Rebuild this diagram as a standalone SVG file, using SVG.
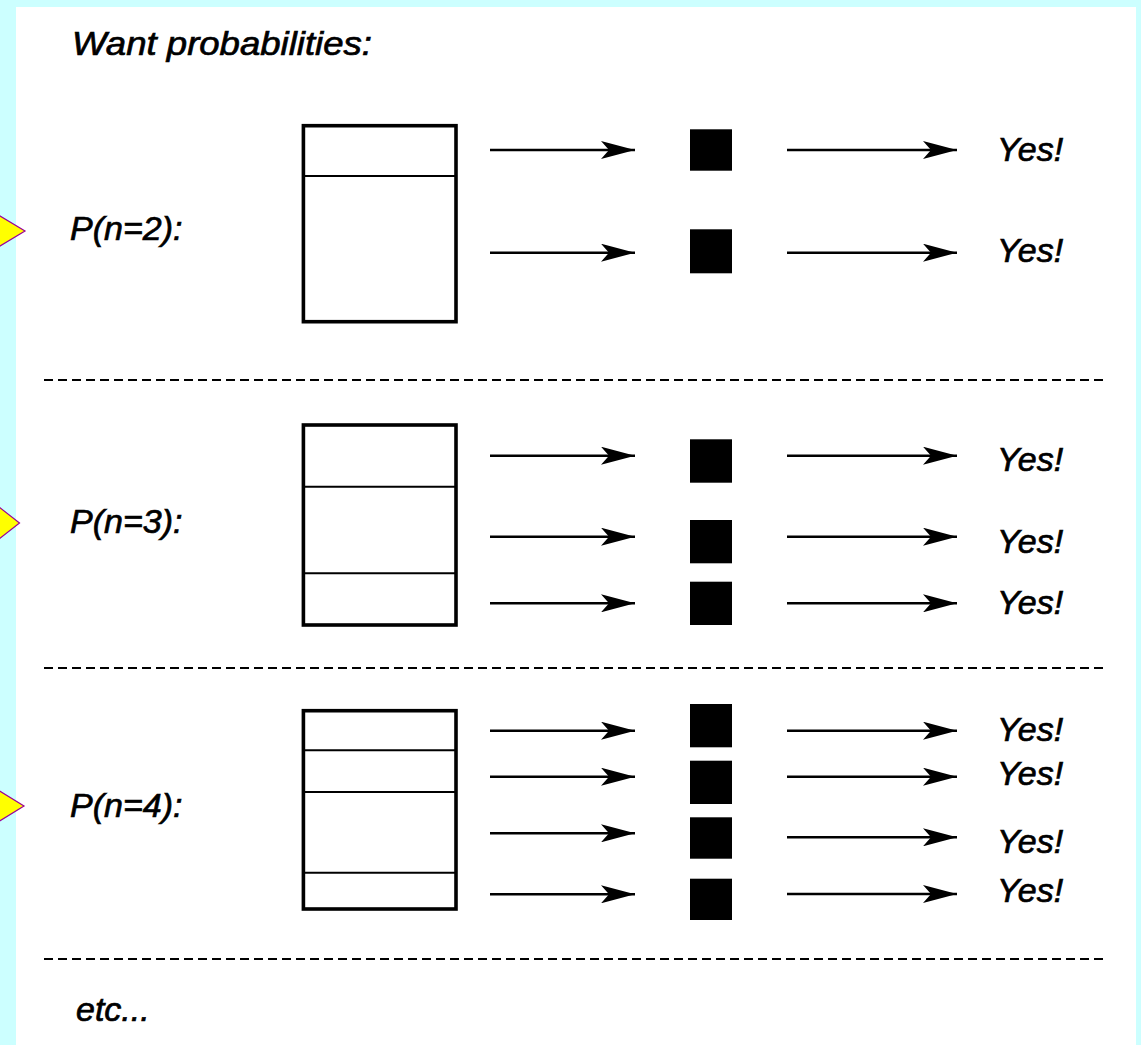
<svg xmlns="http://www.w3.org/2000/svg" width="1141" height="1045" viewBox="0 0 1141 1045">
<style>
.t{font-family:"Liberation Sans",Arial,sans-serif;font-style:italic;font-size:34px;fill:#000;stroke:#000;stroke-width:0.7}
.box{fill:#fff;stroke:#000;stroke-width:3.6}
.div{stroke:#000;stroke-width:2}
.sq{fill:#000}
.arr{stroke:#000;stroke-width:2.4;fill:none;marker-end:url(#ah)}
.dash{stroke:#000;stroke-width:2.2;stroke-dasharray:9 5}
.ptr{fill:#ffff00;stroke:#990099;stroke-width:1.2}
</style>
<defs>
<marker id="ah" markerUnits="userSpaceOnUse" viewBox="0 0 34 18" refX="34" refY="9" markerWidth="34" markerHeight="18" orient="auto">
<path d="M0,0 L34,9 L0,18 L8,9 Z" fill="#000"/>
</marker>
</defs>
<rect x="0" y="0" width="1141" height="1045" fill="#ccffff"/>
<rect x="16" y="7" width="1120" height="1038" fill="#fff"/>
<g id="pointers">
<polygon class="ptr" points="-10,210 25,231 -10,252"/>
<polygon class="ptr" points="-10,500 19.5,523 -10,546"/>
<polygon class="ptr" points="-10,785 24,806 -10,827"/>
</g>
<g id="title"><text class="t" x="72" y="55" textLength="300" lengthAdjust="spacingAndGlyphs">Want probabilities:</text></g>
<g id="row2">
<text class="t" x="70" y="240">P(n=2):</text>
<rect class="box" x="303.4" y="125.7" width="152.6" height="196"/>
<line class="div" x1="303" y1="176" x2="456" y2="176"/>
<rect class="sq" x="690" y="129.3" width="42" height="41.4"/>
<rect class="sq" x="690" y="229.3" width="42" height="44"/>
<text class="t" x="997" y="161">Yes!</text>
<text class="t" x="997" y="262">Yes!</text>
</g>
<g id="row3">
<text class="t" x="70" y="533">P(n=3):</text>
<rect class="box" x="303.4" y="425" width="152.6" height="200"/>
<line class="div" x1="303" y1="486.7" x2="456" y2="486.7"/>
<line class="div" x1="303" y1="573.3" x2="456" y2="573.3"/>
<rect class="sq" x="690" y="439.3" width="42" height="43.4"/>
<rect class="sq" x="690" y="520" width="42" height="43.3"/>
<rect class="sq" x="690" y="581.7" width="42" height="43.3"/>
<text class="t" x="997" y="471">Yes!</text>
<text class="t" x="997" y="553">Yes!</text>
<text class="t" x="997" y="614">Yes!</text>
</g>
<g id="row4">
<text class="t" x="70" y="817">P(n=4):</text>
<rect class="box" x="303.4" y="710.7" width="152.6" height="198.3"/>
<line class="div" x1="303" y1="750.3" x2="456" y2="750.3"/>
<line class="div" x1="303" y1="792" x2="456" y2="792"/>
<line class="div" x1="303" y1="872.7" x2="456" y2="872.7"/>
<rect class="sq" x="690" y="704" width="42" height="43.3"/>
<rect class="sq" x="690" y="760.7" width="42" height="43.3"/>
<rect class="sq" x="690" y="817.3" width="42" height="41.4"/>
<rect class="sq" x="690" y="878.7" width="42" height="41.3"/>
<text class="t" x="997" y="741">Yes!</text>
<text class="t" x="997" y="785">Yes!</text>
<text class="t" x="997" y="853">Yes!</text>
<text class="t" x="997" y="902">Yes!</text>
</g>
<g id="footer"><text class="t" x="76" y="1021">etc...</text></g>
<g id="connectors">
<line class="arr" x1="490" y1="150" x2="635" y2="150"/>
<line class="arr" x1="490" y1="252.7" x2="635" y2="252.7"/>
<line class="arr" x1="787" y1="150" x2="957" y2="150"/>
<line class="arr" x1="787" y1="252.7" x2="957" y2="252.7"/>
<line class="arr" x1="490" y1="455.7" x2="635" y2="455.7"/>
<line class="arr" x1="490" y1="536.7" x2="635" y2="536.7"/>
<line class="arr" x1="490" y1="603.3" x2="635" y2="603.3"/>
<line class="arr" x1="787" y1="455.7" x2="957" y2="455.7"/>
<line class="arr" x1="787" y1="536.7" x2="957" y2="536.7"/>
<line class="arr" x1="787" y1="603.3" x2="957" y2="603.3"/>
<line class="arr" x1="490" y1="730.7" x2="635" y2="730.7"/>
<line class="arr" x1="490" y1="776.7" x2="635" y2="776.7"/>
<line class="arr" x1="490" y1="833.3" x2="635" y2="833.3"/>
<line class="arr" x1="490" y1="894.3" x2="635" y2="894.3"/>
<line class="arr" x1="787" y1="730.7" x2="957" y2="730.7"/>
<line class="arr" x1="787" y1="776.7" x2="957" y2="776.7"/>
<line class="arr" x1="787" y1="837.3" x2="957" y2="837.3"/>
<line class="arr" x1="787" y1="894" x2="957" y2="894"/>
<line class="dash" x1="44" y1="380" x2="1103" y2="380"/>
<line class="dash" x1="44" y1="668" x2="1103" y2="668"/>
<line class="dash" x1="44" y1="959" x2="1103" y2="959"/>
</g>
</svg>
